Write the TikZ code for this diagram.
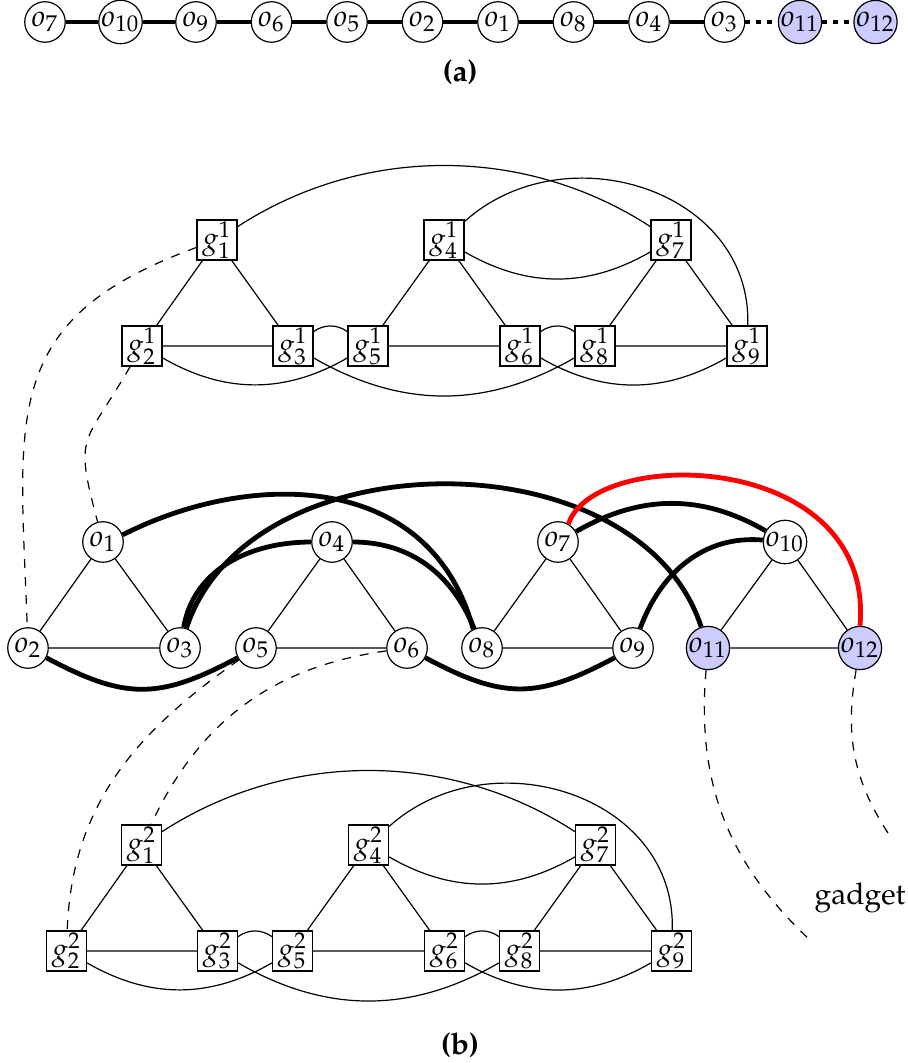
\documentclass[tikz,border=0pt]{standalone}
\usepackage[T1]{fontenc}
\usepackage{mathpazo}
\tikzset{
  onode/.style={circle,draw,fill=white,minimum size=13.5pt,inner sep=0pt},
  selnode/.style={onode,fill=blue!20},
  gnode/.style={rectangle,draw,minimum size=13.3pt,inner sep=0.5pt},
  heavy/.style={line width=1.6pt},
  redheavy/.style={line width=1.6pt,red},
  link/.style={dashed,line width=0.4pt},
  lbl/.style={font=\bfseries},
}
\newcommand{\mygadget}[3]{%
\begin{scope}[shift={#3}]
\node[gnode] (#1g1) at (217,-240) {$g^{#2}_{1}$};
\node[gnode] (#1g4) at (444,-240) {$g^{#2}_{4}$};
\node[gnode] (#1g7) at (671,-240) {$g^{#2}_{7}$};
\node[gnode] (#1g2) at (142,-346) {$g^{#2}_{2}$};
\node[gnode] (#1g3) at (293,-346) {$g^{#2}_{3}$};
\node[gnode] (#1g5) at (368,-346) {$g^{#2}_{5}$};
\node[gnode] (#1g6) at (520,-346) {$g^{#2}_{6}$};
\node[gnode] (#1g8) at (595,-346) {$g^{#2}_{8}$};
\node[gnode] (#1g9) at (747,-346) {$g^{#2}_{9}$};
\draw (#1g1)--(#1g2) (#1g1)--(#1g3) (#1g2)--(#1g3)
      (#1g4)--(#1g5) (#1g4)--(#1g6) (#1g5)--(#1g6)
      (#1g7)--(#1g8) (#1g7)--(#1g9) (#1g8)--(#1g9);
\draw (#1g3) to[out=35,in=145] (#1g5);
\draw (#1g6) to[out=35,in=145] (#1g8);
\draw (#1g2) to[out=-30,in=-150] (#1g5);
\draw (#1g6) to[out=-30,in=-150] (#1g9);
\draw (#1g3) to[out=-30,in=-150] (#1g8);
\draw (#1g1) to[out=33,in=147,looseness=0.93] (#1g7);
\draw (#1g4) to[out=-30,in=-150] (#1g7);
\draw (#1g4) to[out=42,in=88,looseness=1.15] (#1g9);
\end{scope}}
\begin{document}
\begin{tikzpicture}[x=0.3333pt,y=0.3333pt]
\useasboundingbox (0,0) rectangle (908,-1063);
% (a)
\node[onode] (r7) at (45,-22) {$o_{7}$};
\node[onode] (r10) at (120.5,-22) {$o_{10}$};
\node[onode] (r9) at (196,-22) {$o_{9}$};
\node[onode] (r6) at (271.5,-22) {$o_{6}$};
\node[onode] (r5) at (347,-22) {$o_{5}$};
\node[onode] (r2) at (422.5,-22) {$o_{2}$};
\node[onode] (r1) at (498,-22) {$o_{1}$};
\node[onode] (r8) at (573.5,-22) {$o_{8}$};
\node[onode] (r4) at (649,-22) {$o_{4}$};
\node[onode] (r3) at (724.5,-22) {$o_{3}$};
\node[selnode] (r11) at (800,-22) {$o_{11}$};
\node[selnode] (r12) at (875.5,-22) {$o_{12}$};
\draw[heavy] (r7)--(r10) (r10)--(r9) (r9)--(r6) (r6)--(r5) (r5)--(r2)
  (r2)--(r1) (r1)--(r8) (r8)--(r4) (r4)--(r3);
\draw[heavy,dotted] (r3)--(r11) (r11)--(r12);
\node[lbl] (la) at (460,-72) {(a)};
% gadgets
\mygadget{u}{1}{(0,0)}
\mygadget{l}{2}{(-75.5,-605)}
% (b) main graph
\node[onode] (o1) at (103,-542) {$o_{1}$};
\node[onode] (o2) at (28,-648) {$o_{2}$};
\node[onode] (o3) at (180,-648) {$o_{3}$};
\node[onode] (o4) at (332,-542) {$o_{4}$};
\node[onode] (o5) at (256,-648) {$o_{5}$};
\node[onode] (o6) at (407,-648) {$o_{6}$};
\node[onode] (o7) at (558,-542) {$o_{7}$};
\node[onode] (o8) at (482,-648) {$o_{8}$};
\node[onode] (o9) at (633,-648) {$o_{9}$};
\node[onode] (o10) at (785,-542) {$o_{10}$};
\node[selnode] (o11) at (708,-648) {$o_{11}$};
\node[selnode] (o12) at (860,-648) {$o_{12}$};
\draw (o1)--(o2) (o1)--(o3) (o2)--(o3)
      (o4)--(o5) (o4)--(o6) (o5)--(o6)
      (o7)--(o8) (o7)--(o9) (o8)--(o9)
      (o10)--(o11) (o10)--(o12) (o11)--(o12);
\draw[heavy] (o2) to[out=-28,in=-152,looseness=1.2] (o5);
\draw[heavy] (o6) to[out=-28,in=-152,looseness=1.2] (o9);
\draw[heavy] (o1.20) .. controls (250,-470) and (430,-470) .. (o8.115);
\draw[heavy] (o3) to[out=80,in=180] (o4);
\draw[heavy] (o4) to[out=0,in=112] (o8);
\draw[heavy] (o3) to[out=72,in=108] (o11);
\draw[heavy] (o7) to[out=30,in=150] (o10);
\draw[heavy] (o9) to[out=70,in=175] (o10);
\draw[redheavy] (o7.60) .. controls (595,-445) and (875,-450) .. (o12.north);
% dashed links
\coordinate (e11) at (812,-942);
\coordinate (e12) at (888,-833);
\draw[link] (ug1) to[out=200,in=92,looseness=1.3] (o2);
\draw[link] (ug2) to[out=240,in=105,looseness=1.5] (o1);
\draw[link] (o5) to[out=215,in=88] (lg2);
\draw[link] (o6) to[out=188,in=65] (lg1);
\draw[link] (o11) to[out=265,in=137] (e11);
\draw[link] (o12) to[out=260,in=123] (e12);
\node (gad) at (860,-898) {gadget};
\node[lbl] (lb) at (460,-1045) {(b)};
\end{tikzpicture}
\end{document}
